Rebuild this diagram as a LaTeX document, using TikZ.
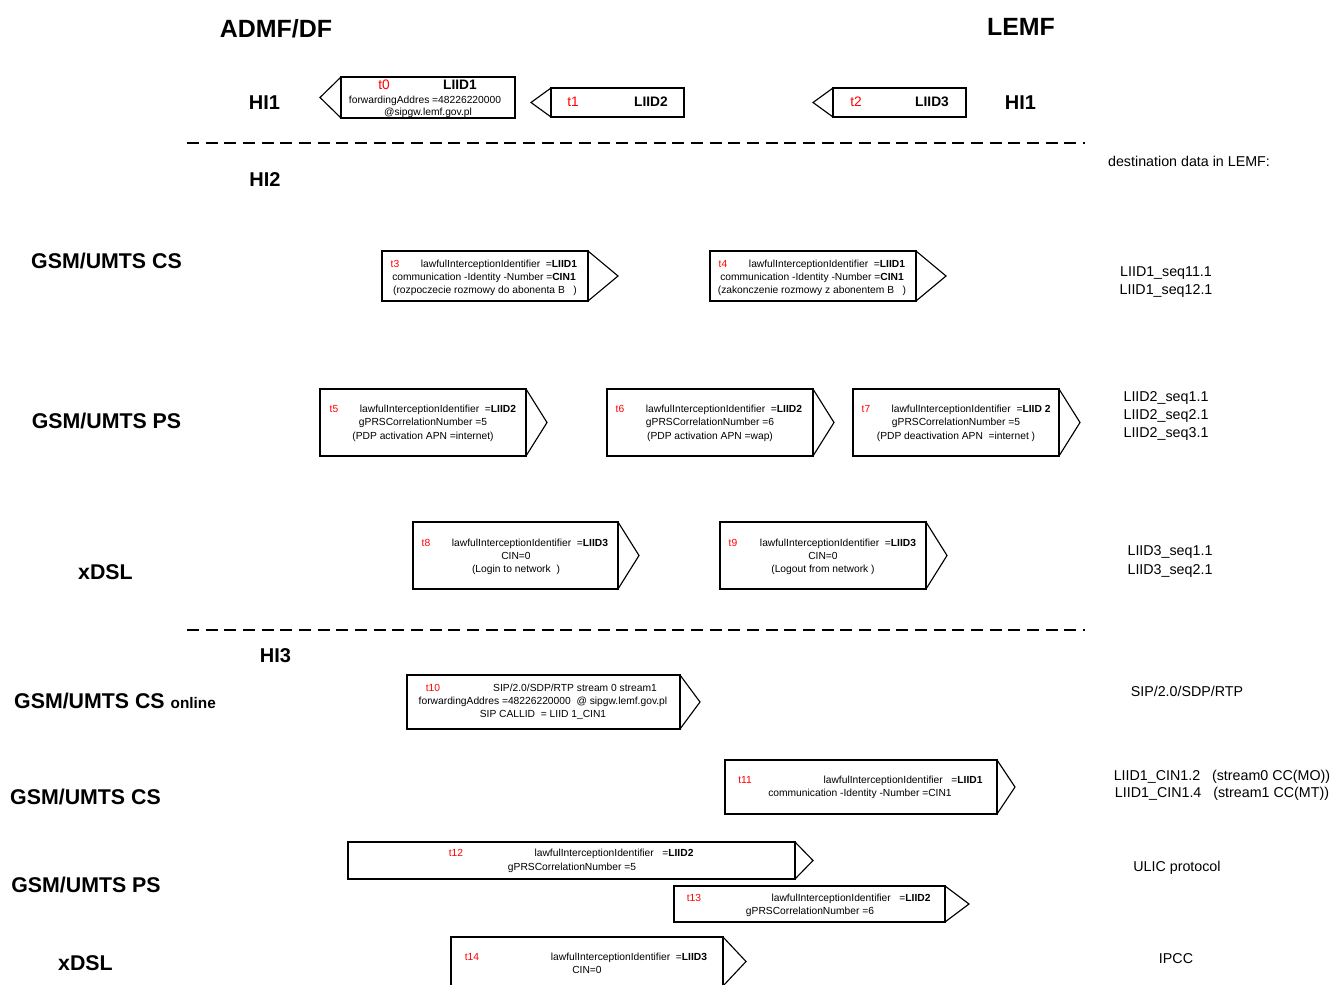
\documentclass[tikz,border=0pt]{standalone}
\usepackage{fontspec}
\setmainfont{Liberation Sans}
\begin{document}
% one unit = one pixel, y grows downwards
\begin{tikzpicture}[x=0.75pt,y=-0.75pt]
\tikzset{
  boxline/.style={draw=black, line width=0.85pt, line join=miter},
  sepline/.style={line width=2.2pt, dash pattern=on 9pt off 5pt},
  title/.style={anchor=base, inner sep=0pt, font=\bfseries\fontsize{18.7}{20}\selectfont},
  hi/.style={anchor=base, inner sep=0pt, font=\bfseries\fontsize{15}{16}\selectfont},
  net/.style={anchor=base, inner sep=0pt, font=\bfseries\fontsize{16}{18}\selectfont},
  dest/.style={anchor=base, inner sep=0pt, font=\fontsize{10.7}{12}\selectfont},
  small/.style={anchor=base, inner sep=0pt, font=\fontsize{7.7}{9}\selectfont},
  tag/.style={small, text=red},
  big/.style={anchor=base, inner sep=0pt, font=\fontsize{10.3}{12}\selectfont},
  bigtag/.style={big, text=red},
}
% right-pointing message box: x1,y1,x2,y2,tip x
\newcommand\rmsgbox[5]{%
  \draw[boxline] (#1,#2) rectangle (#3,#4);
  \draw[boxline] (#3,#2) -- ({#5},{(#2+#4)/2}) -- (#3,#4);}
% left-pointing message box: x1,y1,x2,y2,tip x
\newcommand\lmsgbox[5]{%
  \draw[boxline] (#1,#2) rectangle (#3,#4);
  \draw[boxline] (#1,#2) -- ({#5},{(#2+#4)/2}) -- (#1,#4);}

\useasboundingbox (0,0) rectangle (1335,985);
\clip (0,0) rectangle (1335,985);
\fill[white] (0,0) rectangle (1335,985);

% headings
\node[title] (admf) at (276,37) {ADMF/DF};
\node[title] (lemf) at (1021,36) {LEMF};
\node[hi] (hi1l) at (264.5,109) {HI1};
\node[hi] (hi1r) at (1020.5,109) {HI1};
\node[hi] (hi2) at (265,186) {HI2};
\node[hi] (hi3) at (275.5,662) {HI3};

% separators
\coordinate (s1a) at (187,143); \coordinate (s1b) at (1085,143);
\coordinate (s2a) at (187,630); \coordinate (s2b) at (1085,630);
\draw[sepline] (s1a) -- (s1b);
\draw[sepline] (s2a) -- (s2b);

% network labels
\node[net] (n1) at (106.5,268) {GSM/UMTS CS};
\node[net] (n2) at (106.5,428) {GSM/UMTS PS};
\node[net] (n3) at (105.5,579) {xDSL};
\node[net] (n4) at (115,708) {GSM/UMTS CS {\fontsize{11.5}{12}\selectfont online}};
\node[net] (n5) at (85.5,804) {GSM/UMTS CS};
\node[net] (n6) at (86,892) {GSM/UMTS PS};
\node[net] (n7) at (85.5,970) {xDSL};

% HI1 messages
\lmsgbox{341}{77}{515}{118}{320}
\node[bigtag] (t0) at (384,89) {t0};
\node[big] (t0a) at (460,89) {\textbf{LIID1}};
\node[small] (t0b) at (425,103.6) {forwardingAddres =48226220000};
\node[small] (t0c) at (428,115.5) {@sipgw.lemf.gov.pl};

\lmsgbox{551}{88}{684}{117}{531}
\node[bigtag] (t1) at (573,106) {t1};
\node[big] (t1a) at (651,106) {\textbf{LIID2}};

\lmsgbox{833}{88}{966}{117}{813}
\node[bigtag] (t2) at (856,106) {t2};
\node[big] (t2a) at (932,106) {\textbf{LIID3}};

% HI2: GSM/UMTS CS
\rmsgbox{382}{251}{588}{301}{618}
\node[tag] (t3) at (395,267.6) {t3};
\node[small] (t3a) at (499,267.6) {lawfulInterceptionIdentifier\ \ =\textbf{LIID1}};
\node[small] (t3b) at (484,280.6) {communication -Identity -Number =\textbf{CIN1}};
\node[small] (t3c) at (485,293.1) {(rozpoczecie rozmowy do abonenta B\ \ \ )};

\rmsgbox{710}{251}{916}{301}{946}
\node[tag] (t4) at (723,267.6) {t4};
\node[small] (t4a) at (827,267.6) {lawfulInterceptionIdentifier\ \ =\textbf{LIID1}};
\node[small] (t4b) at (812,280.6) {communication -Identity -Number =\textbf{CIN1}};
\node[small] (t4c) at (812,293.1) {(zakonczenie rozmowy z abonentem B\ \ \ )};

% HI2: GSM/UMTS PS
\rmsgbox{320}{389}{526}{456}{547}
\node[tag] (t5) at (334,412.6) {t5};
\node[small] (t5a) at (438,412.6) {lawfulInterceptionIdentifier\ \ =\textbf{LIID2}};
\node[small] (t5b) at (423,425.6) {gPRSCorrelationNumber =5};
\node[small] (t5c) at (423,439.6) {(PDP activation APN =internet)};

\rmsgbox{607}{389}{813}{456}{834}
\node[tag] (t6) at (620,412.6) {t6};
\node[small] (t6a) at (724,412.6) {lawfulInterceptionIdentifier\ \ =\textbf{LIID2}};
\node[small] (t6b) at (710,425.6) {gPRSCorrelationNumber =6};
\node[small] (t6c) at (710,439.6) {(PDP activation APN =wap)};

\rmsgbox{853}{389}{1059}{456}{1080}
\node[tag] (t7) at (866,412.6) {t7};
\node[small] (t7a) at (971,412.6) {lawfulInterceptionIdentifier\ \ =\textbf{LIID 2}};
\node[small] (t7b) at (956,425.6) {gPRSCorrelationNumber =5};
\node[small] (t7c) at (956,439.6) {(PDP deactivation APN\ \ =internet )};

% HI2: xDSL
\rmsgbox{413}{522}{618}{589}{639}
\node[tag] (t8) at (426,546.6) {t8};
\node[small] (t8a) at (530,546.6) {lawfulInterceptionIdentifier\ \ =\textbf{LIID3}};
\node[small] (t8b) at (516,559.6) {CIN=0};
\node[small] (t8c) at (516,572.6) {(Login to network\ \ )};

\rmsgbox{720}{522}{926}{589}{947}
\node[tag] (t9) at (733,546.6) {t9};
\node[small] (t9a) at (838,546.6) {lawfulInterceptionIdentifier\ \ =\textbf{LIID3}};
\node[small] (t9b) at (823,559.6) {CIN=0};
\node[small] (t9c) at (823,572.6) {(Logout from network\ )};

% HI3
\rmsgbox{407}{675}{680}{729}{700}
\node[tag] (t10) at (433,691.6) {t10};
\node[small] (t10a) at (575,691.6) {SIP/2.0/SDP/RTP stream 0\ stream1};
\node[small] (t10b) at (543,704.6) {forwardingAddres =48226220000\ \ @ sipgw.lemf.gov.pl};
\node[small] (t10c) at (543,717.6) {SIP CALLID\ \ = LIID 1\_CIN1};

\rmsgbox{725}{760}{997}{814}{1015}
\node[tag] (t11) at (745,783.6) {t11};
\node[small] (t11a) at (903,783.6) {lawfulInterceptionIdentifier\ \ \ =\textbf{LIID1}};
\node[small] (t11b) at (860,796.6) {communication -Identity -Number =CIN1};

\rmsgbox{348}{842}{795}{879}{813}
\node[tag] (t12) at (456,856.6) {t12};
\node[small] (t12a) at (614,856.6) {lawfulInterceptionIdentifier\ \ \ =\textbf{LIID2}};
\node[small] (t12b) at (572,870.6) {gPRSCorrelationNumber =5};

\rmsgbox{674}{886}{945}{922}{969}
\node[tag] (t13) at (694,901.6) {t13};
\node[small] (t13a) at (851,901.6) {lawfulInterceptionIdentifier\ \ \ =\textbf{LIID2}};
\node[small] (t13b) at (810,914.6) {gPRSCorrelationNumber =6};

\rmsgbox{451}{937}{723}{986}{746}
\node[tag] (t14) at (472,960.6) {t14};
\node[small] (t14a) at (629,960.6) {lawfulInterceptionIdentifier\ \ =\textbf{LIID3}};
\node[small] (t14b) at (587,973.6) {CIN=0};

% destination data column
\node[dest] (d0) at (1189,166) {destination data in LEMF:};
\node[dest] (d1) at (1166,276) {LIID1\_seq11.1};
\node[dest] (d2) at (1166,294) {LIID1\_seq12.1};
\node[dest] (d3) at (1166,401) {LIID2\_seq1.1};
\node[dest] (d4) at (1166,419) {LIID2\_seq2.1};
\node[dest] (d5) at (1166,437) {LIID2\_seq3.1};
\node[dest] (d6) at (1170,555) {LIID3\_seq1.1};
\node[dest] (d7) at (1170,574) {LIID3\_seq2.1};
\node[dest] (d8) at (1187,696) {SIP/2.0/SDP/RTP};
\node[dest] (d9) at (1222,780) {LIID1\_CIN1.2\ \ \ (stream0 CC(MO))};
\node[dest] (d10) at (1222,797) {LIID1\_CIN1.4\ \ \ (stream1 CC(MT))};
\node[dest] (d11) at (1177,871) {ULIC protocol};
\node[dest] (d12) at (1176,963) {IPCC};
\end{tikzpicture}
\end{document}
